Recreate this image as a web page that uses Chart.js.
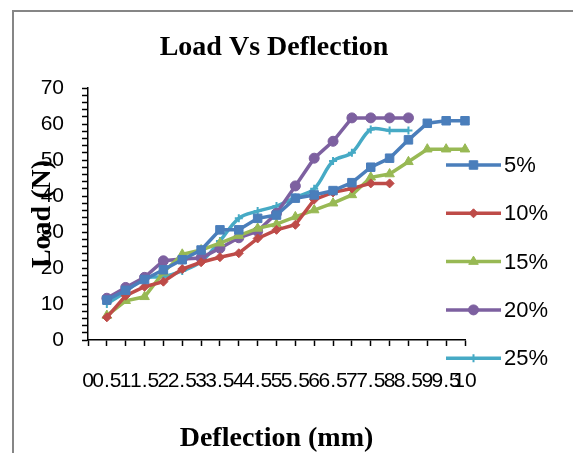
<!DOCTYPE html>
<html lang="en">
<head>
    <meta charset="UTF-8">
    <title>Load Vs Deflection</title>
    <script src="https://cdn.jsdelivr.net/npm/chart.js"></script>
    <style>
        body {
            margin: 0;
            background-color: #fff;
        }
        #chartContainer {
            width: 573px;
            height: 453px;
        }
    </style>
</head>
<body>
    <div id="chartContainer">
        <canvas id="lineChart" width="573" height="453"></canvas>
    </div>

    <script>
        // Deflection categories (mm)
        const deflection = ['0', '0.5', '1', '1.5', '2', '2.5', '3', '3.5', '4', '4.5', '5',
                            '5.5', '6', '6.5', '7', '7.5', '8', '8.5', '9', '9.5', '10'];
        const yTicks = [0, 10, 20, 30, 40, 50, 60, 70];

        // Load (N) for each mix
        const load5 = [null, 11.1, 13.8, 16.8, 19.5, 22.3, 25, 30.6, 30.6, 33.8, 34.7,
                       39.4, 40.3, 41.5, 43.7, 48, 50.5, 55.6, 60.2, 60.9, 60.9];
        const load10 = [null, 6.3, 12.3, 14.8, 16.2, 19.7, 21.6, 23, 24.1, 28.2, 30.6,
                        32, 39, 41, 42.1, 43.5, 43.5, null, null, null, null];
        const load15 = [null, 6.8, 10.9, 12, 18.8, 23.8, 25, 26.9, 29, 31, 32.2,
                        34.2, 36.1, 38, 40.3, 45.2, 46.1, 49.5, 53, 53, 53];
        const load20 = [null, 11.6, 14.6, 17.4, 22, 22.5, 22.8, 25.5, 28.4, 30.2, 35.2,
                        42.8, 50.5, 55.2, 61.7, 61.7, 61.7, 61.7, null, null, null];
        const load25 = [null, 10, 13.4, 17.2, 17.6, 19.2, 21.8, 27.5, 33.8, 35.8, 37.2,
                        39.6, 42, 49.7, 52, 58.5, 58.2, 58.2, null, null, null];

        const serif = "'Liberation Serif', 'Times New Roman', serif";
        Chart.defaults.font.family = "'Liberation Sans', Arial, sans-serif";
        Chart.defaults.color = '#000';

        function series(label, data, color, pointStyle, radius, tension) {
            return {
                label: label,
                data: data,
                borderColor: color,
                backgroundColor: color,
                borderWidth: 3.5,
                pointStyle: pointStyle,
                pointRadius: radius,
                pointHoverRadius: radius,
                pointBorderWidth: pointStyle === 'cross' ? 2 : 1,
                tension: tension || 0,
                spanGaps: false
            };
        }

        // Excel-like legend: line with marker, text on the right
        const sideLegend = {
            id: 'sideLegend',
            afterDraw(chart) {
                const ctx = chart.ctx;
                const area = chart.chartArea;
                const x0 = area.right - 19;
                const x1 = x0 + 55;
                ctx.save();
                chart.data.datasets.forEach((ds, i) => {
                    const y = area.top + 77 + i * 48.3;
                    ctx.strokeStyle = ds.borderColor;
                    ctx.fillStyle = ds.backgroundColor;
                    ctx.lineWidth = 3.5;
                    ctx.beginPath();
                    ctx.moveTo(x0, y);
                    ctx.lineTo(x1, y);
                    ctx.stroke();
                    ctx.lineWidth = ds.pointBorderWidth;
                    Chart.helpers.drawPoint(ctx, {
                        pointStyle: ds.pointStyle,
                        rotation: 0,
                        radius: ds.pointRadius,
                        borderWidth: ds.pointBorderWidth
                    }, (x0 + x1) / 2, y);
                    ctx.fillStyle = '#000';
                    ctx.font = "22px 'Liberation Sans', Arial, sans-serif";
                    ctx.textAlign = 'left';
                    ctx.textBaseline = 'middle';
                    ctx.fillText(ds.label, x1 + 3, y + 1);
                });
                ctx.restore();
            }
        };

        // white page, grey chart border running off to the right and bottom, and the title
        const chartFrame = {
            id: 'chartFrame',
            beforeDraw(chart) {
                const ctx = chart.ctx;
                ctx.save();
                ctx.fillStyle = '#fff';
                ctx.fillRect(0, 0, chart.width, chart.height);
                ctx.strokeStyle = '#868686';
                ctx.lineWidth = 2;
                ctx.strokeRect(13, 11, 700, 600);
                ctx.fillStyle = '#000';
                ctx.font = 'bold 28px ' + serif;
                ctx.textAlign = 'center';
                ctx.textBaseline = 'middle';
                ctx.fillText('Load Vs Deflection', 274, 48);
                ctx.restore();
            }
        };

        const ctx = document.getElementById('lineChart').getContext('2d');
        new Chart(ctx, {
            type: 'line',
            data: {
                labels: deflection,
                datasets: [
                    series('5%', load5, '#4A7EBB', 'rect', 6),
                    series('10%', load10, '#BE4B48', 'rectRot', 4.5),
                    series('15%', load15, '#98B954', 'triangle', 5.5),
                    series('20%', load20, '#7D60A0', 'circle', 5),
                    series('25%', load25, '#46AAC5', 'cross', 4, 0.35)
                ]
            },
            plugins: [chartFrame, sideLegend],
            options: {
                responsive: false,
                animation: false,
                layout: {
                    padding: { left: 26, right: 108, top: 88, bottom: 0 }
                },
                plugins: {
                    legend: { display: false },
                    tooltip: { enabled: false },
                    title: { display: false }
                },
                scales: {
                    x: {
                        type: 'category',
                        offset: false,
                        afterFit(scale) { scale.height = 113; },
                        border: { color: '#000', width: 1.5 },
                        grid: {
                            drawOnChartArea: false,
                            drawTicks: true,
                            tickLength: 6,
                            tickColor: '#000',
                            tickWidth: 1.5
                        },
                        ticks: {
                            autoSkip: false,
                            maxRotation: 0,
                            minRotation: 0,
                            padding: 23,
                            color: '#000',
                            font: { size: 21 }
                        },
                        title: {
                            display: true,
                            text: 'Deflection (mm)',
                            color: '#000',
                            font: { family: serif, size: 28, weight: 'bold' },
                            padding: { top: 0, bottom: -3 }
                        }
                    },
                    y: {
                        min: 0,
                        max: 70,
                        afterFit(scale) { scale.width = 62; },
                        border: { color: '#000', width: 1.5 },
                        grid: {
                            drawOnChartArea: false,
                            drawTicks: true,
                            tickLength: 6,
                            tickColor: '#000',
                            tickWidth: 1.5
                        },
                        ticks: {
                            stepSize: 2,
                            autoSkip: false,
                            padding: 18,
                            color: '#000',
                            font: { size: 21 },
                            callback: function(value) {
                                return yTicks.includes(value) ? String(value) : '';
                            }
                        },
                        title: {
                            display: true,
                            text: 'Load (N)',
                            color: '#000',
                            font: { family: serif, size: 28, weight: 'bold' },
                            padding: { top: 0, bottom: 0 }
                        }
                    }
                }
            }
        });
    </script>
</body>
</html>
